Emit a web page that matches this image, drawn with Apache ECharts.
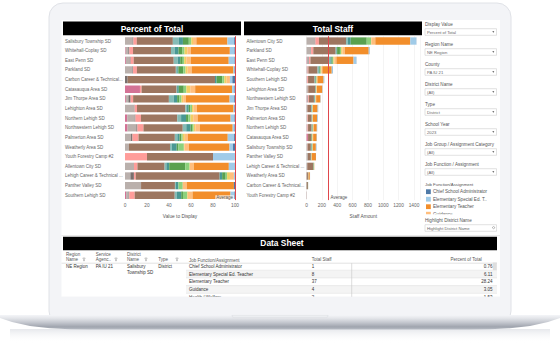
<!DOCTYPE html>
<html><head><meta charset="utf-8">
<script src="https://cdn.jsdelivr.net/npm/echarts@6/dist/echarts.min.js"></script>
<style>html,body{margin:0;padding:0;background:#fff}#c{width:560px;height:361px}</style>
</head><body><div id="c"></div>
<script>
// ---------- DATA ----------
const leftDistricts = ['Salisbury Township SD','Whitehall-Coplay SD','East Penn SD','Parkland SD','Carbon Career & Technical...','Catasauqua Area SD','Jim Thorpe Area SD','Lehighton Area SD','Northern Lehigh SD','Northwestern Lehigh SD','Palmerton Area SD','Weatherly Area SD','Youth Forestry Camp #2','Allentown City SD','Lehigh Career & Technical ...','Panther Valley SD','Southern Lehigh SD'];
const rightDistricts = ['Allentown City SD','Parkland SD','East Penn SD','Whitehall-Coplay SD','Southern Lehigh SD','Lehighton Area SD','Northwestern Lehigh SD','Jim Thorpe Area SD','Palmerton Area SD','Northern Lehigh SD','Catasauqua Area SD','Salisbury Township SD','Panther Valley SD','Lehigh Career & Technical ...','Weatherly Area SD','Carbon Career & Technical...','Youth Forestry Camp #2'];
// total staff, aligned with leftDistricts
const staffTotals = [131, 345, 650, 822, 22, 136, 152, 208, 140, 185, 148, 46, 5, 1432, 104, 124, 232];

const jobFunctions = ['Vocational Teacher','Ungraded Special Ed.','Supervisor','Secondary Special Ed. Teacher','Secondary Teacher','Principal','Other Support','Other Instructional','Librarian','Health / Welfare','Guidance','Elementary Teacher','Elementary Special Ed. Teacher','Chief School Administrator'];
const jobColors = ['#d37295','#bab0ac','#79706e','#ff9d9a','#9d7660','#86bcb6','#499894','#59a14f','#8cd17d','#f1ce63','#ffbe7d','#f28e2b','#a0cbe8','#4e79a7'];

// percent of total per job function, aligned with leftDistricts
const pctVocational   = [0, 0.6, 0.8, 0, 0, 13.6, 0.8, 0, 2, 2.3, 0, 0, 0, 0, 0, 0, 1];
const pctUngraded     = [6.87, 2.4, 3.5, 6.8, 0, 0, 2.3, 8.5, 6.8, 8, 5.5, 3.6, 0, 7.8, 4.9, 14.6, 2.3];
const pctSupervisor   = [0.76, 1, 0.8, 0.5, 2.4, 0, 2, 0.3, 0.7, 1, 1.3, 0, 0, 0.3, 3.2, 0, 0.6];
const pctSecSpecialEd = [3.05, 3.3, 2.8, 3.5, 0, 1.5, 2.3, 2.1, 5, 5.5, 5.5, 0, 20, 3.2, 1.6, 0, 4.9];
const pctSecTeacher   = [32.82, 34.5, 36.4, 35.4, 79.4, 31.8, 32.5, 44, 33, 35.7, 33, 37.3, 60, 24.7, 76.3, 30.8, 36.4];
const pctPrincipal    = [5.34, 3.6, 3.6, 1.3, 0, 0.5, 4.5, 1.5, 3.5, 3.2, 2.3, 1.6, 0, 1.6, 0, 0.8, 2];
const pctOtherSupport = [3.82, 3.3, 2.3, 1, 1.5, 1.5, 3, 1.5, 4.5, 3.9, 2, 4.5, 0, 2.6, 2.3, 2.4, 3.9];
const pctOtherInstr   = [5.34, 3.6, 2.3, 4.5, 5.2, 4.5, 2, 1.5, 2, 1.3, 1.6, 1.6, 0, 14.6, 3.2, 0, 1.6];
const pctLibrarian    = [2.29, 1.8, 1.3, 2, 1.8, 2.4, 2, 1.5, 2, 1.5, 1.3, 4.9, 0, 3.9, 1.3, 3.9, 3.9];
const pctHealth       = [1.53, 2.5, 1.9, 2, 2.1, 3.5, 1.5, 1.5, 2.5, 1.5, 1.9, 0.6, 0, 0.3, 2.6, 0, 0.6];
const pctGuidance     = [3.05, 3.3, 4.2, 3.6, 3, 4.5, 2.5, 3, 4, 4.2, 2.6, 3.9, 0, 3.6, 3.6, 3.6, 4.2];
const pctElemTeacher  = [28.24, 35.4, 34.4, 38, 0, 33.6, 39.7, 33.3, 30, 29.8, 36.4, 37, 0, 31.8, 0, 42.9, 34.5];
const pctElemSpecial  = [6.11, 4.2, 5.3, 1, 2.2, 2.1, 4.2, 0.8, 3.5, 1.6, 5.8, 3.2, 20, 5.5, 1, 0, 3.6];
const pctChief        = [0.76, 0.5, 0.4, 0.4, 2.4, 0.5, 0.7, 0.5, 0.5, 0.5, 0.8, 1.8, 0, 0.1, 0, 1, 0.5];
const pctBySeries = [pctVocational, pctUngraded, pctSupervisor, pctSecSpecialEd, pctSecTeacher, pctPrincipal, pctOtherSupport, pctOtherInstr, pctLibrarian, pctHealth, pctGuidance, pctElemTeacher, pctElemSpecial, pctChief];

const percentTicks = {min: 0, max: 100, interval: 20};
const staffTicks = {min: 0, max: 1480, interval: 200};

const filterLabels = ['Display Value','Region Name','County','District Name','Type','School Year','Job Group / Assignment Category','Job Function / Assignment'];
const filterValues = ['Percent of Total','NE Region','PA IU 21','(All)','District','2023','(All)','(All)'];
const legendItems = ['Chief School Administrator','Elementary Special Ed. T..','Elementary Teacher','Guidance'];
const legendColors = ['#4e79a7','#a0cbe8','#f28e2b','#ffbe7d'];

const tableFunctions = ['Chief School Administrator','Elementary Special Ed. Teacher','Elementary Teacher','Guidance','Health / Welfare'];
const tableStaff = [1, 8, 37, 4, 2];
const tablePercent = ['0.76','6.11','28.24','3.05','1.53'];

// ---------- CHART ----------
const FONT = '"Liberation Sans", Arial, sans-serif';
const chart = echarts.init(document.getElementById('c'), null, {renderer: 'svg'});

const rowSums = leftDistricts.map((d, i) => pctBySeries.reduce((s, a) => s + a[i], 0));
const avgPct = rowSums.reduce((a, b) => a + b, 0) / rowSums.length;
const avgStaff = staffTotals.reduce((a, b) => a + b, 0) / staffTotals.length;

const series = [];
jobFunctions.forEach((name, k) => {
  series.push({
    type: 'bar', name, stack: 'pct', xAxisIndex: 0, yAxisIndex: 0,
    data: pctBySeries[k], itemStyle: {color: jobColors[k]},
    barCategoryGap: '24%', silent: true
  });
  series.push({
    type: 'bar', name, stack: 'staff', xAxisIndex: 1, yAxisIndex: 1,
    data: rightDistricts.map(d => { const i = leftDistricts.indexOf(d); return pctBySeries[k][i] * staffTotals[i] / 100; }),
    itemStyle: {color: jobColors[k]},
    barCategoryGap: '24%', silent: true
  });
});
const mlStyle = {color: '#e0474c', width: 1, type: 'solid'};
series[0].markLine = {silent: true, symbol: 'none', label: {show: false}, lineStyle: mlStyle, data: [{xAxis: avgPct}]};
series[1].markLine = {silent: true, symbol: 'none', label: {show: false}, lineStyle: mlStyle, data: [{xAxis: avgStaff}]};

const axisLabelY = {fontSize: 4.5, color: '#666', align: 'left', margin: 60, fontFamily: FONT};
const axisLabelX = {fontSize: 4.8, color: '#666', margin: 3, fontFamily: FONT, formatter: v => String(v)};

// ---------- DECOR (laptop, panel, table) ----------
function txt(x, y, s, o) {
  const z = (o && o.z) || 5;
  return {type: 'text', z, style: Object.assign({x, y, text: s, fontSize: 5, fill: '#333', fontFamily: FONT, verticalAlign: 'middle'}, o || {})};
}
function rect(x, y, w, h, fill, o) {
  return Object.assign({type: 'rect', z: 1, shape: {x, y, width: w, height: h}, style: {fill}}, o || {});
}
const g = [];
// shadow
g.push({type: 'rect', z: 0, shape: {x: 10, y: 329, width: 540, height: 14},
  style: {fill: new echarts.graphic.LinearGradient(0, 0, 0, 1, [{offset: 0, color: '#e6e8ec'}, {offset: 1, color: 'rgba(255,255,255,0)'}])}});
// frame
g.push({type: 'rect', z: 0, shape: {x: 49, y: 3, width: 462, height: 322, r: 14}, style: {fill: '#f3f4f7', stroke: '#e0e2e7', lineWidth: 1}});
// screen
g.push(rect(61.5, 20, 438.5, 276.7, '#ffffff', {z: 0}));
// base
g.push({type: 'polygon', z: 0, shape: {points: [[0, 315], [560, 315], [560, 318], [548, 322], [530, 326], [510, 328.3], [490, 329.3], [470, 329.5], [90, 329.5], [70, 329.3], [50, 328.3], [30, 326], [12, 322], [0, 318]]},
  style: {fill: new echarts.graphic.LinearGradient(0, 0, 0, 1, [
    {offset: 0, color: '#f4f5f8'}, {offset: 0.22, color: '#e4e6ea'}, {offset: 0.5, color: '#c6c9d0'},
    {offset: 0.82, color: '#9fa4ae'}, {offset: 1, color: '#b9bdc5'}])}});
g.push({type: 'rect', z: 0, shape: {x: 232, y: 315, width: 96, height: 2.6, r: [0, 0, 2, 2]}, style: {fill: '#eceef1', stroke: '#d4d7dc', lineWidth: 0.4}});

// chart titles
g.push(rect(63, 21.5, 178, 13.8, '#000'));
g.push(txt(152, 28.5, 'Percent of Total', {fill: '#fff', fontSize: 8.4, fontWeight: 'bold', align: 'center'}));
g.push(rect(244, 21.5, 178, 13.8, '#000'));
g.push(txt(333, 28.5, 'Total Staff', {fill: '#fff', fontSize: 8.4, fontWeight: 'bold', align: 'center'}));

// filter panel
filterLabels.forEach((l, i) => {
  const y = 24 + i * 20;
  g.push(txt(425, y, l, {fontSize: 4.6, fill: '#555'}));
  g.push(rect(425, y + 4.7, 71.5, 6.6, '#fff', {style: {fill: '#fff', stroke: '#cfcfcf', lineWidth: 0.6}}));
  g.push(txt(427, y + 8, filterValues[i], {fontSize: 4.2, fill: '#666'}));
  g.push({type: 'polygon', z: 5, shape: {points: [[492.3, y + 7.3], [494.3, y + 7.3], [493.3, y + 8.7]]}, style: {fill: '#444'}});
});
g.push(txt(425, 184, 'Job Function/Assignment', {fontSize: 4.3, fill: '#555'}));
legendItems.forEach((l, i) => {
  const y = 191.7 + i * 7.5;
  g.push(rect(426, y - 2.4, 4.8, 4.8, legendColors[i], {z: 5}));
  g.push(txt(433, y, l, {fontSize: 4.6, fill: '#555'}));
});
g.push(rect(424, 214.2, 74, 4, '#fff', {z: 6}));
g.push(txt(425, 220, 'Highlight District Name', {fontSize: 4.6, fill: '#555', z: 7}));
g.push(rect(425, 224.7, 71.5, 6.6, '#fff', {z: 6, style: {fill: '#fff', stroke: '#cfcfcf', lineWidth: 0.6}}));
g.push(txt(427, 228, 'Highlight District Name', {fontSize: 4.2, fill: '#666', z: 7}));
g.push({type: 'circle', z: 7, shape: {cx: 493.6, cy: 227.6, r: 1.1}, style: {fill: 'none', stroke: '#777', lineWidth: 0.5}});

// data sheet
g.push({type: 'line', z: 1, shape: {x1: 61.5, y1: 235.6, x2: 500, y2: 235.6}, style: {stroke: '#d8d8d8', lineWidth: 0.6}});
g.push(rect(63, 236.7, 434, 13.5, '#000'));
g.push(txt(282, 243.4, 'Data Sheet', {fill: '#fff', fontSize: 8.4, fontWeight: 'bold', align: 'center'}));
const hdr = {fontSize: 4.5, fill: '#555'};
g.push(txt(66, 254.3, 'Region', hdr)); g.push(txt(66, 259.3, 'Name', hdr));
g.push(txt(95.7, 254.3, 'Service', hdr)); g.push(txt(95.7, 259.3, 'Agenc..', hdr));
g.push(txt(127, 254.3, 'District', hdr)); g.push(txt(127, 259.3, 'Name', hdr));
g.push(txt(158.3, 259.3, 'Type', hdr));
[84, 116, 146, 177].forEach(x => g.push({type: 'polygon', z: 5, shape: {points: [[x - 1.2, 258], [x + 1.2, 258], [x + 0.3, 259.5], [x + 0.3, 261], [x - 0.3, 261], [x - 0.3, 259.5]]}, style: {fill: 'none', stroke: '#777', lineWidth: 0.4}}));
g.push(txt(189, 260.7, 'Job Function/Assignment', hdr));
g.push(txt(311.7, 259.3, 'Total Staff', hdr));
g.push(txt(481.7, 259.3, 'Percent of Total', Object.assign({align: 'right'}, hdr)));
g.push({type: 'line', z: 2, shape: {x1: 61.5, y1: 263.2, x2: 497, y2: 263.2}, style: {stroke: '#d0d0d0', lineWidth: 0.6}});
const cell = {fontSize: 4.5, fill: '#333'};
g.push(txt(66, 266.3, 'NE Region', cell));
g.push(txt(95.7, 266.3, 'PA IU 21', cell));
g.push(txt(127, 266.3, 'Salisbury', cell));
g.push(txt(127, 272.3, 'Township SD', cell));
g.push(txt(158.3, 266.3, 'District', cell));
tableFunctions.forEach((f, i) => {
  const y = 266.3 + i * 7.7;
  if (i % 2 === 1) g.push(rect(186, y - 3.8, 311, 7.7, '#f4f4f4', {z: 1}));
  g.push({type: 'line', z: 2, shape: {x1: 186, y1: y + 3.9, x2: 497, y2: y + 3.9}, style: {stroke: '#dcdcdc', lineWidth: 0.5}});
  g.push(txt(189, y, f, cell));
  g.push(txt(311.7, y, String(tableStaff[i]), cell));
  g.push(txt(492.5, y, tablePercent[i], Object.assign({align: 'right'}, cell)));
});
g.push(rect(492.8, 262.5, 4, 7.6, '#dedede', {z: 3}));
g.push({type: 'line', z: 3, shape: {x1: 351.7, y1: 263.2, x2: 351.7, y2: 297}, style: {stroke: '#c8c8c8', lineWidth: 0.6}});
// cover below screen edge
g.push(rect(61.5, 296.7, 438.5, 18, '#f3f4f7', {z: 8}));

chart.setOption({
  animation: false,
  backgroundColor: '#ffffff',
  textStyle: {fontFamily: FONT},
  grid: [
    {left: 125, top: 36.2, width: 110, height: 163.9, containLabel: false},
    {left: 306.5, top: 36.2, width: 113.6, height: 163.9, containLabel: false}
  ],
  xAxis: [
    {type: 'value', gridIndex: 0, min: percentTicks.min, max: percentTicks.max, interval: percentTicks.interval,
     axisLine: {show: false}, axisTick: {show: false}, splitLine: {show: false}, axisLabel: axisLabelX,
     name: 'Value to Display', nameLocation: 'middle', nameGap: 14, nameTextStyle: {fontSize: 4.8, color: '#555', fontFamily: FONT}},
    {type: 'value', gridIndex: 1, min: staffTicks.min, max: staffTicks.max, interval: staffTicks.interval,
     axisLine: {show: false}, axisTick: {show: false}, splitLine: {show: true, lineStyle: {color: '#ececec', width: 0.6}},
     axisLabel: Object.assign({showMaxLabel: false}, axisLabelX),
     name: 'Staff Amount', nameLocation: 'middle', nameGap: 14, nameTextStyle: {fontSize: 4.8, color: '#555', fontFamily: FONT}}
  ],
  yAxis: [
    {type: 'category', gridIndex: 0, data: leftDistricts, inverse: true, axisLine: {show: false}, axisTick: {show: false}, axisLabel: axisLabelY},
    {type: 'category', gridIndex: 1, data: rightDistricts, inverse: true, axisLine: {show: false}, axisTick: {show: false}, axisLabel: axisLabelY}
  ],
  graphic: g,
  series
});

// "Average" labels placed through the axes' own scales
const xl = chart.convertToPixel({xAxisIndex: 0}, avgPct);
const xr = chart.convertToPixel({xAxisIndex: 1}, avgStaff);
g.push(txt(xl - 1, 197.8, 'Average', {fontSize: 4.5, fill: '#555', align: 'right', backgroundColor: 'rgba(255,255,255,0.75)', padding: [0, 1]}));
g.push(txt(xr + 2, 197.8, 'Average', {fontSize: 4.5, fill: '#555'}));
chart.setOption({graphic: g});
</script>
</body></html>
